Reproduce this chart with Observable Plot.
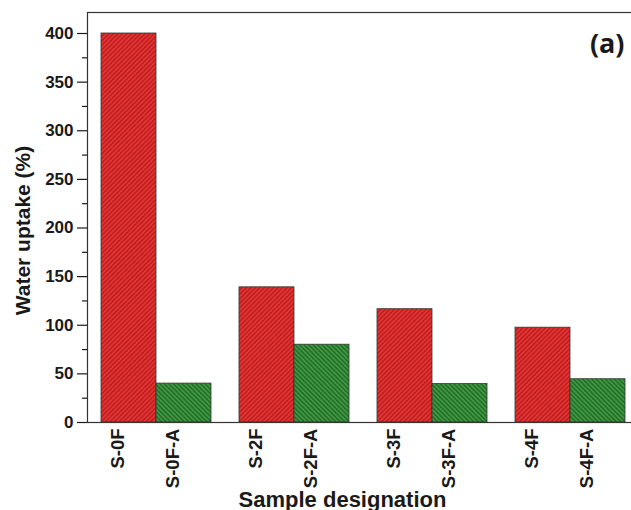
<!DOCTYPE html>
<html>
<head>
<meta charset="utf-8">
<script src="https://cdn.jsdelivr.net/npm/d3@7"></script>
<script src="https://cdn.jsdelivr.net/npm/@observablehq/plot@0.6"></script>
<style>
  html, body { margin: 0; padding: 0; background: #fff; }
</style>
</head>
<body>
<div id="chart"></div>
<script>
// ---- data ----
const samples    = ["S-0F", "S-0F-A", "S-2F", "S-2F-A", "S-3F", "S-3F-A", "S-4F", "S-4F-A"];
const groups     = ["S-0F", "S-0F", "S-2F", "S-2F", "S-3F", "S-3F", "S-4F", "S-4F"];
const kinds      = ["F", "F-A", "F", "F-A", "F", "F-A", "F", "F-A"];
const uptake     = [400, 40, 139, 80, 116.5, 39.5, 97.5, 44.5];
const groupOrder = ["S-0F", "S-2F", "S-3F", "S-4F"];
const kindOrder  = ["F", "F-A"];
const yTicks      = [0, 50, 100, 150, 200, 250, 300, 350, 400];
const yMinorTicks = [25, 75, 125, 175, 225, 275, 325, 375];
const yLabel = "Water uptake (%)";
const xLabel = "Sample designation";
const panelTag = "(a)";

const data = samples.map((s, i) => ({sample: s, group: groups[i], kind: kinds[i], value: uptake[i]}));

const chart = Plot.plot({
  width: 631,
  height: 510,
  marginLeft: 87,
  marginRight: 0,
  marginTop: 12,
  marginBottom: 88,
  style: {fontFamily: "'Liberation Sans', Arial, sans-serif", fontWeight: "bold", color: "#1a1a1a", background: "#fff"},
  fx: {domain: groupOrder, paddingInner: 0.058, paddingOuter: 0, axis: null, label: null},
  x: {domain: kindOrder, padding: 0, insetLeft: 14, insetRight: 6, axis: null},
  y: {domain: [0, 421.6], axis: null},
  color: {domain: kindOrder, range: ["url(#hatch-red)", "url(#hatch-green)"]},
  marks: [
    Plot.barY(data, {fx: "group", x: "kind", y: "value", fill: "kind", stroke: "#333", strokeWidth: 0.8}),
    Plot.frame({facet: "super", stroke: "#333", strokeWidth: 1.2, insetRight: -3}),
    Plot.axisY({ticks: yTicks, tickSize: 10, tickPadding: 4, fontSize: 17, label: null, strokeWidth: 1.2}),
    Plot.axisY({ticks: yMinorTicks, tickSize: 5, tickFormat: () => "", label: null, strokeWidth: 1.2}),
    Plot.text(data, {fx: "group", x: "kind", text: "sample", frameAnchor: "bottom", rotate: -90,
                     textAnchor: "end", dy: 6, dx: -5, fontSize: 18.5}),
    Plot.text([yLabel], {facet: "super", text: d => d, frameAnchor: "left", textAnchor: "middle", rotate: -90,
                         dx: -64, dy: 13, fontSize: 21}),
    Plot.text([xLabel], {facet: "super", text: d => d, frameAnchor: "bottom", textAnchor: "middle", dx: -17, dy: 84, fontSize: 22}),
    Plot.text([panelTag], {facet: "super", text: d => d, frameAnchor: "top-right", textAnchor: "end", lineAnchor: "middle",
                           dx: -7, dy: 32, fontFamily: "'Open Sans', sans-serif", fontSize: 27, fontWeight: "bold"})
  ]
});

// hatch patterns used as bar fills
const svg = d3.select(chart);
const defs = svg.insert("defs", ":first-child");
function hatch(id, bg, line, angle) {
  const s = 3.2;
  const p = defs.append("pattern").attr("id", id).attr("patternUnits", "userSpaceOnUse")
    .attr("width", s).attr("height", s).attr("patternTransform", `rotate(${angle})`);
  p.append("rect").attr("width", s).attr("height", s).attr("fill", bg);
  p.append("line").attr("x1", s / 2).attr("y1", 0).attr("x2", s / 2).attr("y2", s)
    .attr("stroke", line).attr("stroke-width", 1);
}
hatch("hatch-red", "#ea3232", "#9a1818", 45);
hatch("hatch-green", "#3c9a40", "#1c5220", -45);

document.getElementById("chart").appendChild(chart);
</script>
</body>
</html>
